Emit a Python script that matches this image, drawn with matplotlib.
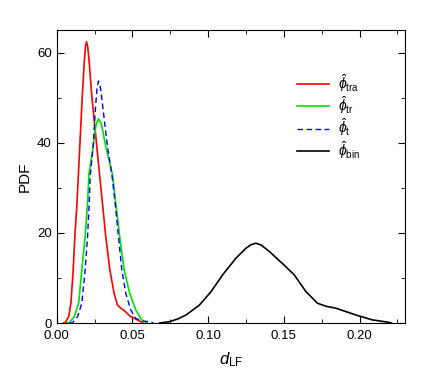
import numpy as np
import matplotlib.pyplot as plt
from matplotlib.ticker import MultipleLocator

plt.rcParams["font.family"] = ["Liberation Sans", "DejaVu Sans"]
plt.rcParams["mathtext.fontset"] = "custom"
plt.rcParams["mathtext.rm"] = "Liberation Sans"
plt.rcParams["mathtext.it"] = "Liberation Sans:italic"

# curves
x_tra = [0.0045, 0.0057, 0.0079, 0.0094, 0.0109, 0.0120, 0.0134, 0.0145, 0.0158, 0.0169,
         0.0182, 0.0190, 0.0197, 0.0205, 0.0215, 0.0232, 0.0254, 0.0280, 0.0302, 0.0324,
         0.0351, 0.0379, 0.0401, 0.0420, 0.0445, 0.0489, 0.0533, 0.0570]
y_tra = [0.0, 0.1, 1.4, 4.4, 11.8, 19.2, 26.6, 34.0, 42.9, 50.3,
         57.8, 61.3, 62.4, 61.3, 57.8, 50.3, 42.9, 34.0, 26.6, 19.2,
         11.8, 6.6, 4.0, 3.4, 2.8, 1.4, 0.7, 0.0]

x_tr = [0.0065, 0.0083, 0.0116, 0.0145, 0.0166, 0.0188, 0.0204, 0.0213, 0.0241, 0.0260,
        0.0276, 0.0295, 0.0324, 0.0368, 0.0390, 0.0416, 0.0445, 0.0482, 0.0522, 0.0561,
        0.0599]
y_tr = [0.0, 0.1, 1.4, 4.4, 11.8, 19.2, 26.6, 33.0, 39.2, 44.0,
        45.3, 44.2, 39.2, 33.0, 26.6, 19.2, 11.8, 6.6, 2.9, 0.7,
        0.0]

x_t = [0.0085, 0.0105, 0.0138, 0.0166, 0.0188, 0.0204, 0.0215, 0.0221, 0.0241, 0.0254,
       0.0266, 0.0276, 0.0290, 0.0309, 0.0335, 0.0366, 0.0386, 0.0408, 0.0430, 0.0456,
       0.0489, 0.0522, 0.0576, 0.0610, 0.0640]
y_t = [0.0, 0.1, 1.4, 4.4, 11.8, 19.2, 26.6, 32.5, 39.2, 46.7,
       52.0, 53.7, 52.0, 46.7, 39.2, 32.5, 26.6, 19.2, 11.8, 6.6,
       2.9, 1.0, 0.4, 0.3, 0.0]

x_bin = [0.0680, 0.0745, 0.0800, 0.0855, 0.0943, 0.1020, 0.1096, 0.1184, 0.1250, 0.1285,
         0.1316, 0.1350, 0.1403, 0.1500, 0.1568, 0.1645, 0.1721, 0.1780, 0.1842, 0.1974,
         0.2083, 0.2193, 0.2210]
y_bin = [0.0, 0.3, 0.9, 1.8, 4.0, 7.0, 10.7, 14.4, 16.6, 17.4,
         17.7, 17.3, 15.9, 12.9, 10.7, 7.0, 4.4, 3.7, 3.3, 1.8,
         0.7, 0.15, 0.0]

fig = plt.figure(figsize=(4.36, 3.85), dpi=100)
ax = fig.add_axes([0.130, 0.161, 0.799, 0.761])

ax.plot(x_tra, y_tra, color="#ff0000", lw=1.2, label=r"$\hat{\phi}_{\rm tra}$")
ax.plot(x_tr, y_tr, color="#00e000", lw=1.2, label=r"$\hat{\phi}_{\rm tr}$")
ax.plot(x_t, y_t, color="#0000ff", lw=1.0, ls=(0, (4, 2.5)), label=r"$\hat{\phi}_{\rm t}$")
ax.plot(x_bin, y_bin, color="black", lw=1.2, label=r"$\hat{\phi}_{\rm bin}$")

ax.set_xlim(0, 0.23)
ax.set_ylim(0, 65)
ax.xaxis.set_major_locator(MultipleLocator(0.05))
ax.xaxis.set_minor_locator(MultipleLocator(0.025))
ax.yaxis.set_major_locator(MultipleLocator(20))
ax.yaxis.set_minor_locator(MultipleLocator(10))
ax.xaxis.set_major_formatter(plt.FormatStrFormatter("%.2f"))
ax.tick_params(which="both", direction="in", top=True, right=True, labelsize=9.5)
ax.tick_params(which="major", length=5)
ax.tick_params(which="minor", length=3)
ax.tick_params(axis="x", pad=5)

ax.set_xlabel(r"$d$$_{\rm LF}$", fontsize=12, labelpad=6)
ax.set_ylabel("PDF", fontsize=11)

ax.legend(loc="upper left", bbox_to_anchor=(0.655, 0.9), frameon=False,
          handlelength=2.3, handletextpad=0.6, labelspacing=0.05, fontsize=10)

fig.savefig("out.png", dpi=100)
